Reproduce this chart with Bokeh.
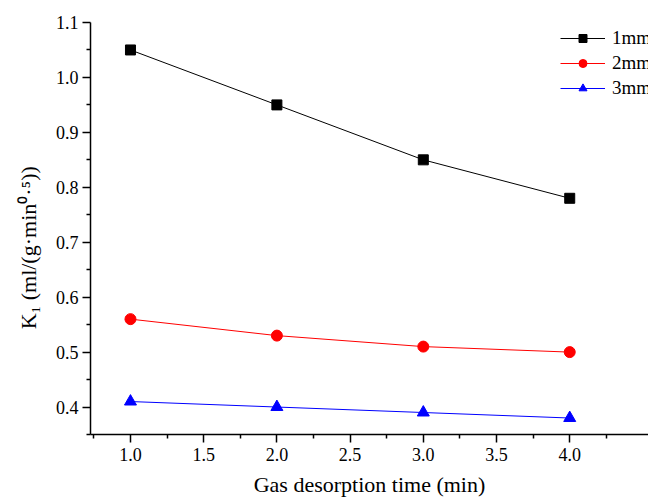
from bokeh.plotting import figure
from bokeh.models import Range1d, FixedTicker, PrintfTickFormatter, Legend, LegendItem
from bokeh.embed import file_html
from bokeh.resources import INLINE

time_min = [1.0, 2.0, 3.0, 4.0]
k1_1mm = [1.05, 0.95, 0.85, 0.78]
k1_2mm = [0.56, 0.53, 0.51, 0.50]
k1_3mm = [0.41, 0.40, 0.39, 0.38]
series_names = ["1mm", "2mm", "3mm"]
x_ticks = [1.0, 1.5, 2.0, 2.5, 3.0, 3.5, 4.0]
y_ticks = [0.4, 0.5, 0.6, 0.7, 0.8, 0.9, 1.0, 1.1]

FONT = "Liberation Serif"
X0, X1, Y0, Y1 = 0.727, 4.538, 0.35, 1.1

p = figure(width=648, height=501, output_backend="svg", toolbar_location=None,
           x_range=Range1d(X0, X1), y_range=Range1d(Y0, Y1),
           min_border_left=90, min_border_right=0, min_border_top=22, min_border_bottom=67)
p.outline_line_color = None
p.xgrid.visible = False
p.ygrid.visible = False
p.background_fill_color = "white"

for ax in (p.xaxis[0], p.yaxis[0]):
    ax.axis_line_width = 1.5
    ax.axis_line_color = "black"
    ax.major_tick_line_width = 1.5
    ax.minor_tick_line_width = 1.5
    ax.major_tick_in = 0
    ax.major_tick_out = 8
    ax.minor_tick_in = 0
    ax.minor_tick_out = 4
    ax.major_label_text_font = FONT
    ax.major_label_text_font_size = "18px"
    ax.major_label_text_color = "black"
    ax.axis_label_text_font = FONT
    ax.axis_label_text_font_size = "22px"
    ax.axis_label_text_font_style = "normal"
    ax.axis_label_text_color = "black"
    ax.formatter = PrintfTickFormatter(format="%.1f")

p.xaxis[0].ticker = FixedTicker(ticks=x_ticks, minor_ticks=[0.75, 1.25, 1.75, 2.25, 2.75, 3.25, 3.75, 4.25])
p.yaxis[0].ticker = FixedTicker(ticks=y_ticks, minor_ticks=[0.35, 0.45, 0.55, 0.65, 0.75, 0.85, 0.95, 1.05])
p.xaxis[0].axis_label = "Gas desorption time (min)"
p.xaxis[0].axis_label_standoff = 8
p.xaxis[0].major_label_standoff = 5
p.yaxis[0].major_label_standoff = 4
p.yaxis[0].axis_label = "K\u2081 (ml/(g\u00b7min\u2070\u00b7\u2075))" + "\u00a0" * 7
p.yaxis[0].axis_label_standoff = 12

l1 = p.line(time_min, k1_1mm, line_color="black", line_width=1)
s1 = p.scatter(time_min, k1_1mm, marker="square", size=10, fill_color="black", line_color="black")
l2 = p.line(time_min, k1_2mm, line_color="red", line_width=1)
s2 = p.scatter(time_min, k1_2mm, marker="circle", size=11, fill_color="red", line_color="red")
l3 = p.line(time_min, k1_3mm, line_color="blue", line_width=1)
s3 = p.scatter(time_min, k1_3mm, marker="triangle", size=12, fill_color="blue", line_color="blue")

legend = Legend(items=[
    LegendItem(label=series_names[0], renderers=[l1, s1]),
    LegendItem(label=series_names[1], renderers=[l2, s2]),
    LegendItem(label=series_names[2], renderers=[l3, s3]),
], location=(470, 335))
legend.border_line_color = None
legend.background_fill_alpha = 0
legend.padding = 0
legend.margin = 0
legend.spacing = 3
legend.glyph_width = 45
legend.glyph_height = 20
legend.label_standoff = 7
legend.label_text_font = FONT
legend.label_text_font_size = "19px"
legend.label_text_color = "black"
p.add_layout(legend, "center")

open("out.html", "w").write(file_html(p, INLINE))
